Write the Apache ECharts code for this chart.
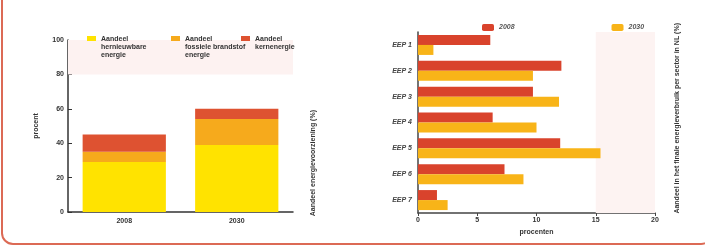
<!DOCTYPE html>
<html>
<head>
<meta charset="utf-8">
<script src="https://cdn.jsdelivr.net/npm/echarts@6/dist/echarts.min.js"></script>
<style>
    html, body { margin: 0; padding: 0; background: #fff; overflow: hidden; }
    #wrap { position: relative; width: 705px; height: 249px; }
    #frame { position: absolute; left: 1px; top: -30px; width: 712px; height: 275px;
             border: 2px solid #dc6a55; border-radius: 12px; box-sizing: border-box; }
    #chart { position: absolute; left: 0; top: 0; width: 705px; height: 249px; }
</style>
</head>
<body>
<div id="wrap">
    <div id="frame"></div>
    <div id="chart"></div>
</div>
<script>
// linker grafiek: energiemix
var mixYears = ['2008', '2030'];
var mixNames = ['Aandeel\nhernieuwbare\nenergie', 'Aandeel\nfossiele brandstof\nenergie', 'Aandeel\nkernenergie'];
var mixRenewable = [29, 39];
var mixFossil = [6, 15];
var mixNuclear = [10, 6];

// rechter grafiek: per sector
var sectors = ['EEP 1', 'EEP 2', 'EEP 3', 'EEP 4', 'EEP 5', 'EEP 6', 'EEP 7'];
var sectorYears = ['2008', '2030'];
var sectorA = [6.1, 12.1, 9.7, 6.3, 12.0, 7.3, 1.6];
var sectorB = [1.3, 9.7, 11.9, 10.0, 15.4, 8.9, 2.5];

var font = 'Liberation Sans';
var txt = { fontFamily: font, fontSize: 7, fontWeight: 'bold', color: '#333' };

var chart = echarts.init(document.getElementById('chart'));

// legend-icoon: blokje bovenaan, rest leeg zodat het bij de eerste regel staat
var legendPos = [82, 166, 236];
var mixLegends = mixNames.map(function (n, i) {
    var h = n.split('\n').length * 8 - 2;
    return {
        left: legendPos[i], top: 30,
        icon: 'path://M0,0L9,0L9,5L0,5Z M0,' + h + 'L0.01,' + h + 'L0.01,' + (h + 0.01) + 'Z',
        itemWidth: 9, itemHeight: h,
        textStyle: Object.assign({}, txt, { lineHeight: 8 }),
        data: [n]
    };
});

var option = {
    backgroundColor: 'transparent',
    animation: false,
    textStyle: { fontFamily: font },
    grid: [
        { left: 68, right: 412, top: 40, bottom: 37 },
        { left: 418, right: 50, top: 32, bottom: 36 }
    ],
    legend: mixLegends.concat([{
        left: 477, top: 19,
        itemWidth: 12, itemHeight: 7, itemGap: 95,
        textStyle: Object.assign({}, txt, { fontStyle: 'italic', color: '#555' }),
        data: sectorYears.map(function (y) { return { name: y + ' ' }; })
    }]),
    xAxis: [{
        gridIndex: 0, type: 'category', data: mixYears,
        axisLine: { lineStyle: { color: '#333', width: 1.5 } },
        axisTick: { inside: true, length: 4, lineStyle: { color: '#333' } },
        axisLabel: Object.assign({}, txt, { margin: 6 })
    }, {
        gridIndex: 1, type: 'value', min: 0, max: 20, interval: 5,
        name: 'procenten', nameLocation: 'middle', nameGap: 13,
        nameTextStyle: txt,
        axisLine: { show: true, lineStyle: { color: '#444', width: 1.5 } },
        axisTick: { show: true, length: 3, lineStyle: { color: '#444' } },
        axisLabel: Object.assign({}, txt, { margin: 4 }),
        splitLine: { show: false }
    }],
    yAxis: [{
        gridIndex: 0, type: 'value', min: 0, max: 100, interval: 20,
        name: 'procent', nameLocation: 'middle', nameGap: 28,
        nameTextStyle: txt,
        axisLine: { show: true, lineStyle: { color: '#333', width: 1.5 } },
        axisTick: { show: true, inside: true, length: 4, lineStyle: { color: '#333' } },
        axisLabel: Object.assign({}, txt, { margin: 4 }),
        splitLine: { show: false }
    }, {
        gridIndex: 1, type: 'category', data: sectors, inverse: true,
        axisLine: { lineStyle: { color: '#444', width: 1.5 } },
        axisTick: { show: false },
        axisLabel: Object.assign({}, txt, { fontStyle: 'italic', color: '#444', margin: 6 })
    }],
    graphic: [{
        type: 'text', left: 310, top: 110, rotation: Math.PI / 2,
        style: { text: 'Aandeel energievoorziening (%)', fill: '#333', font: 'bold 7px ' + font }
    }, {
        type: 'text', left: 674, top: 23, rotation: Math.PI / 2,
        style: { text: 'Aandeel in het finale energieverbruik per sector in NL (%)', fill: '#333', font: 'bold 7px ' + font }
    }],
    series: [{
        name: mixNames[0], type: 'bar', stack: 'mix', xAxisIndex: 0, yAxisIndex: 0,
        barWidth: '74%', itemStyle: { color: '#ffe300' }, data: mixRenewable,
        markArea: {
            silent: true, itemStyle: { color: '#fdf2f1' },
            data: [[{ yAxis: 80 }, { yAxis: 100 }]]
        }
    }, {
        name: mixNames[1], type: 'bar', stack: 'mix', xAxisIndex: 0, yAxisIndex: 0,
        itemStyle: { color: '#f6aa1c' }, data: mixFossil
    }, {
        name: mixNames[2], type: 'bar', stack: 'mix', xAxisIndex: 0, yAxisIndex: 0,
        itemStyle: { color: '#de5231' }, data: mixNuclear
    }, {
        name: sectorYears[0] + ' ', type: 'bar', xAxisIndex: 1, yAxisIndex: 1,
        barWidth: 10, barGap: '0%', itemStyle: { color: '#d9432c' }, data: sectorA,
        markArea: {
            silent: true, itemStyle: { color: '#fdf3f2' },
            data: [[{ xAxis: 15 }, { xAxis: 20 }]]
        }
    }, {
        name: sectorYears[1] + ' ', type: 'bar', xAxisIndex: 1, yAxisIndex: 1,
        barWidth: 10, barGap: '0%', itemStyle: { color: '#f8b418' }, data: sectorB
    }]
};

chart.setOption(option);
</script>
</body>
</html>
